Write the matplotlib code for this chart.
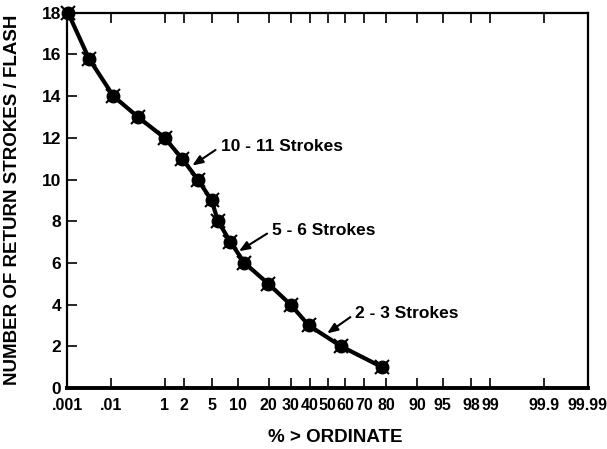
from statistics import NormalDist

import numpy as np
from matplotlib import pyplot as plt

# percent of flashes exceeding the ordinate, and strokes per flash
pct_over = [0.0106, 0.033, 0.112, 0.34, 1.0, 1.9, 3.2, 4.9, 5.9, 8.3, 11.8, 19.9, 29.9, 39.5, 57.7, 78.2]
strokes = [18, 15.8, 14, 13, 12, 11, 10, 9, 8, 7, 6, 5, 4, 3, 2, 1]

x_ticks = [0.01, 0.1, 1, 2, 5, 10, 20, 30, 40, 50, 60, 70, 80, 90, 95, 98, 99, 99.9, 99.99]
x_labels = [".001", ".01", "1", "2", "5", "10", "20", "30", "40", "50", "60", "70", "80",
            "90", "95", "98", "99", "99.9", "99.99"]
y_ticks = list(range(0, 19, 2))

# arrows: label, point on curve (%, strokes), text start (%, strokes)
notes = [
    ("10 - 11 Strokes", (2.68, 10.67), (6.35, 11.58)),
    ("5 - 6 Strokes", (10.3, 6.56), (21.5, 7.56)),
    ("2 - 3 Strokes", (49.8, 2.62), (65.5, 3.57)),
]

nd = NormalDist()
_ppf = np.vectorize(nd.inv_cdf, otypes=[float])
_cdf = np.vectorize(nd.cdf, otypes=[float])


def fwd(p):
    p = np.clip(np.asarray(p, dtype=float), 1e-7, 100 - 1e-7)
    return _ppf(p / 100.0)


def inv(z):
    return _cdf(np.asarray(z, dtype=float)) * 100.0


bold = {"family": ["Liberation Sans", "DejaVu Sans"], "weight": "bold"}
narrow = {"family": ["Liberation Sans Narrow", "Liberation Sans", "DejaVu Sans"], "weight": "bold"}

fig = plt.figure(figsize=(6.07, 4.49), dpi=100)
ax = fig.add_axes([67 / 607, 1 - 388 / 449, (588 - 67) / 607, (388 - 12.7) / 449])
ax.set_xscale("function", functions=(fwd, inv))
ax.set_xlim(0.01, 99.99)
ax.set_ylim(0, 18)

ax.plot(pct_over, strokes, color="black", lw=3, marker="o", ms=9, mec="black", clip_on=False, zorder=3)
ax.plot(pct_over, strokes, color="black", lw=0, marker="x", ms=10, mew=1.5, clip_on=False, zorder=4)

ax.set_xticks(x_ticks)
ax.set_xticklabels(x_labels, fontdict=narrow, fontsize=11.5)
ax.minorticks_off()
ax.set_yticks(y_ticks)
ax.set_yticklabels([str(v) for v in y_ticks], fontdict=bold, fontsize=12.5)
ax.tick_params(axis="x", direction="in", length=7, width=1.2, top=True, pad=7)
ax.tick_params(axis="y", direction="in", length=7, width=1.2, right=False, pad=4)

for side in ["left", "top", "right"]:
    ax.spines[side].set_linewidth(1.6)
ax.spines["bottom"].set_linewidth(2.8)

for label, tip, start in notes:
    ax.annotate(label, xy=tip, xytext=start, ha="left", va="center", fontsize=12.5, **bold,
                arrowprops=dict(arrowstyle="-|>,head_length=0.5,head_width=0.2", color="black",
                                lw=1.5, relpos=(0, 0.5), shrinkA=2, shrinkB=0))

fig.text(13 / 607, 1 - 200 / 449, "NUMBER OF RETURN STROKES / FLASH", rotation=90,
         ha="center", va="center", fontsize=13.5, **bold)
fig.text(335 / 607, 1 - 437 / 449, "% > ORDINATE", ha="center", va="center", fontsize=13.5, **bold)

fig.savefig("out.png", dpi=100)
